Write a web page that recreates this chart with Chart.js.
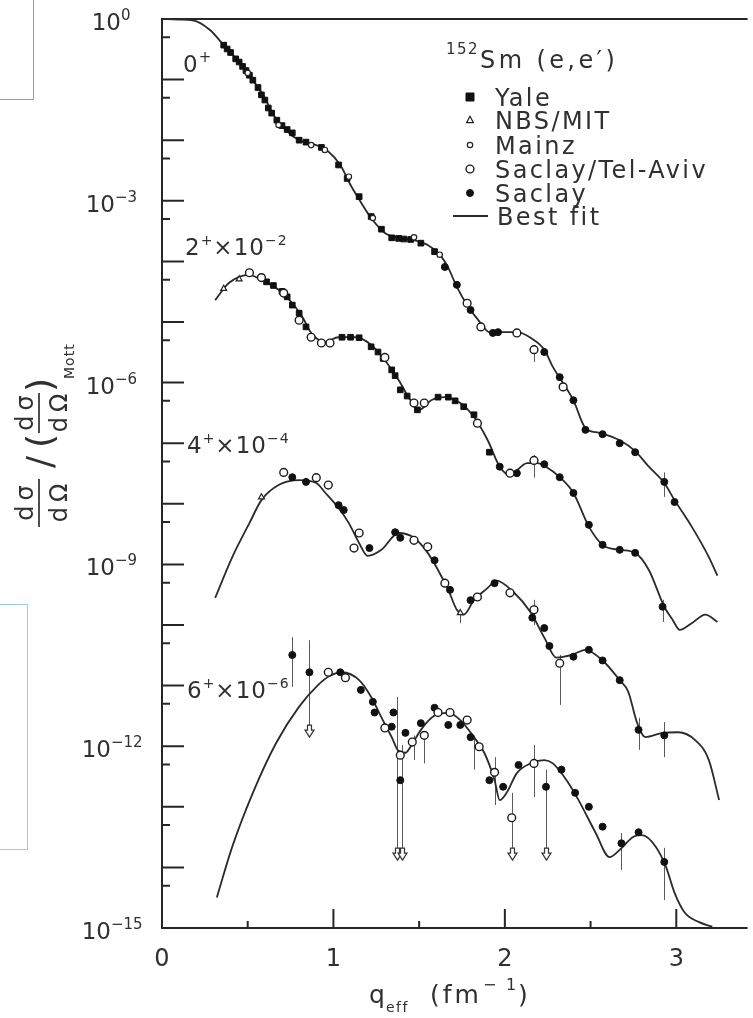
<!DOCTYPE html>
<html>
<head>
<meta charset="utf-8">
<script src="https://cdn.jsdelivr.net/npm/chart.js@4.4.1/dist/chart.umd.min.js"></script>
<style>
  html, body { margin: 0; padding: 0; background: #fff; }
  #wrap { position: relative; width: 753px; height: 1018px; overflow: hidden; }
  #c { position: absolute; left: 0; top: 0; }
  .box-grey { position: absolute; left: -5px; top: -5px; width: 39px; height: 105px; border: 1px solid #9a9a9a; box-sizing: border-box; }
  .box-blue { position: absolute; left: -5px; top: 604px; width: 33px; height: 246px; border: 1px solid #9fcbf2; box-sizing: border-box; }
</style>
</head>
<body>
<div id="wrap">
  <div class="box-grey"></div>
  <div class="box-blue"></div>
  <canvas id="c" width="753" height="1018"></canvas>
</div>
<script>
// 152Sm(e,e') form factors: q_eff in fm^-1, values as plotted
// (2+ already multiplied by 1e-2, 4+ by 1e-4, 6+ by 1e-6).

// ---- best-fit curves ----
const fit0 = [[0,1],[0.10,0.98],[0.18,0.95],[0.28,0.66],[0.36,0.37],[0.45,0.195],[0.53,9.8e-2],[0.60,5.0e-2],[0.65,2.6e-2],[0.72,1.48e-2],[0.80,1.0e-2],[0.90,8.3e-3],[0.97,6.5e-3],[1.04,3.9e-3],[1.10,1.82e-3],[1.16,9.5e-4],[1.22,5.2e-4],[1.30,2.95e-4],[1.38,2.45e-4],[1.47,2.24e-4],[1.55,1.86e-4],[1.62,1.29e-4],[1.67,7.8e-5],[1.72,3.8e-5],[1.78,1.9e-5],[1.86,9.5e-6],[1.91,6.8e-6],[1.99,6.8e-6],[2.07,6.8e-6],[2.15,5.5e-6],[2.23,3.5e-6],[2.28,1.82e-6],[2.34,9.8e-7],[2.40,5.1e-7],[2.47,1.78e-7],[2.55,1.48e-7],[2.67,1.12e-7],[2.76,7.4e-8],[2.84,4.1e-8],[2.93,2.2e-8],[2.99,1.15e-8],[3.09,4.2e-9],[3.19,1.32e-9],[3.24,6.5e-10]];
const fit2 = [[0.31,2.3e-5],[0.39,4.4e-5],[0.51,6.0e-5],[0.58,4.9e-5],[0.68,3.4e-5],[0.76,2.04e-5],[0.82,1.2e-5],[0.87,6.6e-6],[0.95,4.7e-6],[1.03,5.6e-6],[1.13,5.6e-6],[1.22,4.2e-6],[1.30,2.34e-6],[1.38,1.1e-6],[1.45,5.1e-7],[1.50,3.55e-7],[1.57,5.1e-7],[1.65,5.75e-7],[1.74,4.6e-7],[1.82,2.7e-7],[1.90,1.12e-7],[1.97,4.1e-8],[2.03,3.0e-8],[2.13,4.7e-8],[2.19,4.7e-8],[2.24,4.1e-8],[2.32,2.75e-8],[2.40,1.51e-8],[2.49,4.2e-9],[2.57,2.1e-9],[2.67,1.74e-9],[2.76,1.55e-9],[2.84,8.1e-10],[2.93,2.0e-10],[2.98,1.2e-10],[3.02,8.3e-11],[3.09,1.07e-10],[3.17,1.48e-10],[3.24,1.12e-10]];
const fit4 = [[0.31,2.8e-10],[0.41,1.32e-9],[0.51,4.8e-9],[0.58,1.15e-8],[0.68,2.04e-8],[0.80,2.45e-8],[0.90,2.2e-8],[0.95,1.55e-8],[1.03,8.5e-9],[1.09,4.8e-9],[1.15,2.24e-9],[1.20,1.38e-9],[1.28,1.74e-9],[1.38,3.3e-9],[1.47,2.75e-9],[1.55,1.55e-9],[1.61,8.1e-10],[1.67,3.8e-10],[1.72,1.78e-10],[1.76,1.48e-10],[1.82,2.57e-10],[1.90,4.1e-10],[1.95,5.4e-10],[2.05,3.5e-10],[2.15,1.62e-10],[2.23,6.2e-11],[2.30,2.9e-11],[2.39,3.2e-11],[2.47,3.9e-11],[2.57,2.6e-11],[2.67,1.23e-11],[2.72,7.9e-12],[2.77,2.5e-12],[2.82,1.41e-12],[2.92,1.66e-12],[3.01,1.7e-12],[3.11,1.26e-12],[3.19,5.9e-13],[3.25,1.29e-13]];
const fit6 = [[0.32,3.2e-15],[0.41,2.2e-14],[0.53,1.7e-13],[0.665,1.12e-12],[0.80,4.5e-12],[0.91,1.02e-11],[0.98,1.45e-11],[1.05,1.66e-11],[1.15,1.23e-11],[1.22,6.5e-12],[1.28,3.0e-12],[1.34,1.41e-12],[1.38,8.3e-13],[1.42,7.8e-13],[1.45,9.8e-13],[1.51,1.86e-12],[1.59,3.2e-12],[1.67,3.55e-12],[1.74,2.7e-12],[1.82,1.41e-12],[1.88,7.8e-13],[1.94,2.75e-13],[1.97,1.29e-13],[2.01,1.7e-13],[2.07,3.6e-13],[2.15,5.2e-13],[2.23,5.9e-13],[2.28,5.2e-13],[2.36,2.75e-13],[2.43,1.29e-13],[2.53,3.7e-14],[2.61,1.48e-14],[2.67,1.95e-14],[2.75,3.2e-14],[2.80,3.4e-14],[2.88,2.2e-14],[2.94,1.02e-14],[2.99,3.8e-15],[3.05,1.78e-15],[3.13,1.26e-15],[3.21,1.05e-15]];

// ---- measured points, by laboratory ----
const yale0 = [[0.36,0.37],[0.38,0.32],[0.40,0.28],[0.43,0.22],[0.45,0.195],[0.47,0.165],[0.49,0.141],[0.51,0.118],[0.53,9.8e-2],[0.56,7.4e-2],[0.58,5.6e-2],[0.60,4.6e-2],[0.62,3.4e-2],[0.64,2.8e-2],[0.67,2.14e-2],[0.70,1.74e-2],[0.73,1.5e-2],[0.76,1.32e-2],[0.80,1.0e-2],[0.84,9.3e-3],[0.93,7.6e-3],[1.03,3.9e-3],[1.08,2.34e-3],[1.15,1.17e-3],[1.22,5.5e-4],[1.28,3.4e-4],[1.34,2.45e-4],[1.38,2.4e-4],[1.41,2.34e-4],[1.45,2.3e-4],[1.51,2.0e-4],[1.59,1.45e-4]];
const yale2 = [[0.61,4.6e-5],[0.65,4.0e-5],[0.70,3.2e-5],[0.73,2.6e-5],[0.76,1.9e-5],[0.80,1.4e-5],[0.84,8.3e-6],[1.05,5.6e-6],[1.10,5.6e-6],[1.15,5.5e-6],[1.22,3.9e-6],[1.26,3.2e-6],[1.29,2.5e-6],[1.34,1.62e-6],[1.36,1.3e-6],[1.39,7.6e-7],[1.43,6.0e-7],[1.49,3.55e-7],[1.61,5.75e-7],[1.67,5.75e-7],[1.71,5.0e-7],[1.76,4.0e-7],[1.82,2.95e-7],[1.91,7.1e-8]];
const nbs2 = [[0.36,3.55e-5],[0.45,5.1e-5]];
const nbs4 = [[0.58,1.29e-8],[1.74,1.58e-10]];
const mainz0 = [[0.50,0.129],[0.68,1.78e-2],[0.87,8.3e-3],[0.95,6.9e-3],[1.09,2.5e-3],[1.23,5.2e-4],[1.47,2.5e-4],[1.62,1.29e-4]];
const stav0 = [[1.78,2.04e-5],[1.86,8.3e-6],[2.07,6.6e-6],[2.17,3.5e-6],[2.34,8.5e-7]];
const stav2 = [[0.51,6.5e-5],[0.58,5.4e-5],[0.71,3.0e-5],[0.80,1.07e-5],[0.87,5.6e-6],[0.93,4.5e-6],[0.98,4.5e-6],[1.30,2.6e-6],[1.47,4.6e-7],[1.53,4.6e-7],[1.84,2.14e-7],[2.03,3.2e-8],[2.17,5.2e-8]];
const stav4 = [[0.71,3.3e-8],[0.90,2.7e-8],[0.97,2.04e-8],[1.12,1.86e-9],[1.15,3.3e-9],[1.47,2.5e-9],[1.55,1.95e-9],[1.65,4.9e-10],[1.84,2.9e-10],[2.03,3.4e-10],[2.17,1.78e-10],[2.32,2.34e-11]];
const stav6 = [[0.97,1.66e-11],[1.07,1.35e-11],[1.30,2.0e-12],[1.39,7.1e-13],[1.46,1.17e-12],[1.53,1.51e-12],[1.61,3.6e-12],[1.68,3.6e-12],[1.78,2.7e-12],[1.85,9.8e-13],[1.94,3.7e-13],[2.04,6.6e-14],[2.17,5.2e-13]];
const saclay0 = [[1.65,8.1e-5],[1.72,4.1e-5],[1.80,1.58e-5],[1.93,6.6e-6],[1.96,6.8e-6],[2.23,3.2e-6],[2.32,1.23e-6],[2.40,5.1e-7],[2.47,1.66e-7],[2.57,1.41e-7],[2.67,1.0e-7],[2.76,7.1e-8],[2.93,2.3e-8],[2.99,1.07e-8]];
const saclay2 = [[1.97,4.1e-8],[2.07,3.2e-8],[2.23,4.5e-8],[2.32,2.75e-8],[2.40,1.51e-8],[2.49,4.5e-9],[2.57,2.1e-9],[2.67,1.74e-9],[2.76,1.55e-9],[2.92,2.0e-10]];
const saclay4 = [[0.76,2.75e-8],[0.84,2.3e-8],[1.03,9.5e-9],[1.06,7.9e-9],[1.21,1.86e-9],[1.36,3.4e-9],[1.39,2.75e-9],[1.59,1.17e-9],[1.68,3.8e-10],[1.80,2.57e-10],[1.94,4.9e-10],[2.16,1.32e-10],[2.23,8.9e-11],[2.26,4.5e-11],[2.40,3.0e-11],[2.49,3.9e-11],[2.57,2.6e-11],[2.67,1.23e-11],[2.78,1.86e-12],[2.93,1.51e-12]];
const saclay6 = [[0.76,3.2e-11],[0.86,1.66e-11],[1.04,1.66e-11],[1.16,8.5e-12],[1.23,5.4e-12],[1.24,3.6e-12],[1.34,2.1e-12],[1.35,3.6e-12],[1.39,2.75e-13],[1.42,1.66e-12],[1.51,2.4e-12],[1.59,4.3e-12],[1.67,2.24e-12],[1.74,2.24e-12],[1.80,1.41e-12],[1.91,2.75e-13],[1.99,2.14e-13],[2.08,4.9e-13],[2.24,2.14e-13],[2.33,4.1e-13],[2.41,1.7e-13],[2.49,1.0e-13],[2.57,4.7e-14],[2.68,2.5e-14],[2.78,3.8e-14],[2.93,1.23e-14]];

// error bars: [q, low, high]
const errorBars = [[2.17,2.2e-6,4.2e-6],[2.93,1.3e-8,3.3e-8],[2.17,2.7e-8,6.4e-8],[2.92,1.12e-10,2.6e-10],[1.74,1.07e-10,1.6e-10],[2.17,1.0e-10,2.6e-10],[2.32,4.8e-12,3.2e-11],[2.78,8.7e-13,2.95e-12],[2.93,6.6e-13,2.5e-12],[0.76,9.5e-12,6.3e-11],[1.47,5.9e-13,1.5e-12],[1.53,5.2e-13,1.7e-12],[1.82,4.1e-13,1.5e-12],[1.94,1.07e-13,6.6e-13],[2.17,1.45e-13,1.05e-12],[2.68,9.1e-15,3.7e-14],[2.93,2.9e-15,2.1e-14]];
// upper limits: [q, top of bar, arrow tip]
const upperLimits = [[0.86,5.6e-11,1.41e-12],[1.37,6.5e-12,1.32e-14],[1.40,1.05e-12,1.32e-14],[2.04,1.7e-13,1.32e-14],[2.24,4.1e-13,1.32e-14]];

// axes
const xTicks = [0, 1, 2, 3];
const xMinorTicks = [0.5, 1.5, 2.5];
const yDecades = [0,-1,-2,-3,-4,-5,-6,-7,-8,-9,-10,-11,-12,-13,-14,-15];
const yLabelDecades = [0, -3, -6, -9, -12, -15];
const legendLabels = ['Yale', 'NBS/MIT', 'Mainz', 'Saclay/Tel-Aviv', 'Saclay', 'Best fit'];

const FONT = '"DejaVu Sans", sans-serif';
const INK = '#303030';

const toXY = a => a.map(([x, y]) => ({ x, y }));

const markStyles = {
  'Yale':            { pointStyle: 'rect', pointRadius: 4, pointBackgroundColor: '#111', pointBorderColor: '#111', pointBorderWidth: 1 },
  'NBS/MIT':         { pointStyle: 'triangle', pointRadius: 3.4, pointBackgroundColor: '#fff', pointBorderColor: '#222', pointBorderWidth: 1.2 },
  'Mainz':           { pointStyle: 'circle', pointRadius: 2.7, pointBackgroundColor: '#fff', pointBorderColor: '#222', pointBorderWidth: 1.2 },
  'Saclay/Tel-Aviv': { pointStyle: 'circle', pointRadius: 3.9, pointBackgroundColor: '#fff', pointBorderColor: '#1a1a1a', pointBorderWidth: 1.4 },
  'Saclay':          { pointStyle: 'circle', pointRadius: 3.5, pointBackgroundColor: '#111', pointBorderColor: '#111', pointBorderWidth: 1 }
};

const pointSet = (label, arr) => Object.assign({ label, data: toXY(arr), showLine: false, order: 0 }, markStyles[label]);
const fitSet = arr => ({ label: 'Best fit', data: toXY(arr), showLine: true, pointRadius: 0, borderColor: '#2a2a2a', borderWidth: 1.8, cubicInterpolationMode: 'monotone', fill: false, order: 5 });

const datasets = [
  pointSet('Saclay/Tel-Aviv', [...stav0, ...stav2, ...stav4, ...stav6]),
  pointSet('Mainz', mainz0),
  pointSet('NBS/MIT', [...nbs2, ...nbs4]),
  pointSet('Saclay', [...saclay0, ...saclay2, ...saclay4, ...saclay6]),
  pointSet('Yale', [...yale0, ...yale2]),
  fitSet(fit0), fitSet(fit2), fitSet(fit4), fitSet(fit6)
];

// text runs with superscript / subscript: parts = [[text, 0 base | 1 sup | 2 sub], ...]
function drawRich(ctx, x, y, parts, big, small, rise, drop, spacing) {
  let cx = x;
  ctx.textAlign = 'left';
  ctx.textBaseline = 'alphabetic';
  for (const [t, k] of parts) {
    ctx.font = `${k ? small : big}px ${FONT}`;
    ctx.letterSpacing = spacing + 'px';
    const dy = k === 1 ? -rise : (k === 2 ? drop : 0);
    ctx.fillText(t, cx, y + dy);
    cx += ctx.measureText(t).width;
  }
  ctx.letterSpacing = '0px';
  return cx;
}
function drawText(ctx, x, y, text, size, spacing) {
  ctx.textAlign = 'left';
  ctx.textBaseline = 'alphabetic';
  ctx.font = `${size}px ${FONT}`;
  ctx.letterSpacing = spacing + 'px';
  ctx.fillText(text, x, y);
  ctx.letterSpacing = '0px';
}

// frame, tick marks, error bars and upper-limit arrows (under the markers)
const framePlugin = {
  id: 'frame',
  beforeDatasetsDraw(chart) {
    const { ctx, chartArea: a, scales: { x: xs, y: ys } } = chart;
    ctx.save();
    ctx.strokeStyle = '#262626';
    ctx.lineWidth = 2;
    ctx.beginPath();
    ctx.moveTo(a.right, a.top); ctx.lineTo(a.left, a.top);
    ctx.lineTo(a.left, a.bottom); ctx.lineTo(a.right, a.bottom);
    ctx.stroke();
    ctx.beginPath();
    yDecades.forEach(e => {
      const y = ys.getPixelForValue(Math.pow(10, e));
      ctx.moveTo(a.left, y); ctx.lineTo(a.left + 22, y);
      if (e > -15) {
        const ym = ys.getPixelForValue(5 * Math.pow(10, e - 1));
        ctx.moveTo(a.left, ym); ctx.lineTo(a.left + 8, ym);
      }
    });
    xTicks.forEach(v => {
      const x = xs.getPixelForValue(v);
      ctx.moveTo(x, a.bottom); ctx.lineTo(x, a.bottom - 19);
    });
    xMinorTicks.forEach(v => {
      const x = xs.getPixelForValue(v);
      ctx.moveTo(x, a.bottom); ctx.lineTo(x, a.bottom - 7);
    });
    ctx.stroke();

    ctx.strokeStyle = '#5a5a5a';
    ctx.lineWidth = 1;
    ctx.beginPath();
    errorBars.forEach(([q, lo, hi]) => {
      const x = Math.round(xs.getPixelForValue(q)) + 0.5;
      ctx.moveTo(x, ys.getPixelForValue(hi)); ctx.lineTo(x, ys.getPixelForValue(lo));
    });
    ctx.stroke();
    upperLimits.forEach(([q, from, to]) => {
      const x = Math.round(xs.getPixelForValue(q)) + 0.5;
      const y0 = ys.getPixelForValue(from), y1 = ys.getPixelForValue(to);
      ctx.strokeStyle = '#5a5a5a';
      ctx.lineWidth = 1;
      ctx.beginPath();
      ctx.moveTo(x, y0); ctx.lineTo(x, y1 - 8);
      ctx.stroke();
      ctx.strokeStyle = '#333';
      ctx.lineWidth = 1.2;
      ctx.beginPath();
      ctx.moveTo(x - 2, y1 - 12); ctx.lineTo(x - 2, y1 - 7); ctx.lineTo(x - 4.5, y1 - 7);
      ctx.lineTo(x, y1); ctx.lineTo(x + 4.5, y1 - 7); ctx.lineTo(x + 2, y1 - 7); ctx.lineTo(x + 2, y1 - 12);
      ctx.closePath();
      ctx.fillStyle = '#fff';
      ctx.fill();
      ctx.stroke();
    });
    ctx.restore();
  },
  afterDraw(chart) {
    const { ctx, scales: { y: ys } } = chart;
    ctx.save();
    ctx.fillStyle = INK;
    ctx.strokeStyle = INK;

    // y tick labels 10^n (the "10" sits a little further left for two-digit exponents)
    yLabelDecades.forEach(e => {
      const y = ys.getPixelForValue(Math.pow(10, e));
      const exp = e === 0 ? '0' : '\u2212' + (-e);
      ctx.font = `23px ${FONT}`;
      const bw = ctx.measureText('10').width;
      const baseRight = e === 0 ? 121 : (e > -10 ? 115 : 111);
      drawRich(ctx, baseRight - bw, y + 11, [['10', 0], [exp, 1]], 23, 15, 10, 0, 0);
    });

    // state labels
    drawRich(ctx, 183, 72, [['0', 0], ['+', 1]], 23, 15, 10, 0, 1);
    drawRich(ctx, 185, 255, [['2', 0], ['+', 1], ['\u00d710', 0], ['\u22122', 1]], 23, 14, 10, 0, 1);
    drawRich(ctx, 187, 453, [['4', 0], ['+', 1], ['\u00d710', 0], ['\u22124', 1]], 23, 14, 10, 0, 1);
    drawRich(ctx, 187, 698, [['6', 0], ['+', 1], ['\u00d710', 0], ['\u22126', 1]], 23, 14, 10, 0, 1);

    // legend
    drawText(ctx, 446, 54, '152', 15, 1.5);
    drawText(ctx, 480, 68, 'Sm (e,e\u2032)', 24, 3.4);
    const rowY = [97, 120, 145, 169, 193, 216];
    const sx = 470;
    legendLabels.forEach((lab, i) => {
      const y = rowY[i];
      if (lab === 'Best fit') {
        ctx.strokeStyle = '#2a2a2a'; ctx.lineWidth = 1.8;
        ctx.beginPath(); ctx.moveTo(453, y); ctx.lineTo(488, y); ctx.stroke();
      } else {
        const st = markStyles[lab];
        ctx.fillStyle = st.pointBackgroundColor; ctx.strokeStyle = st.pointBorderColor;
        ctx.lineWidth = st.pointBorderWidth;
        ctx.beginPath();
        const r = st.pointRadius;
        if (st.pointStyle === 'circle') ctx.arc(sx, y, r, 0, Math.PI * 2);
        else if (st.pointStyle === 'rect') ctx.rect(sx - r, y - r, r * 2, r * 2);
        else { ctx.moveTo(sx, y - r * 1.1); ctx.lineTo(sx + r, y + r * 0.8); ctx.lineTo(sx - r, y + r * 0.8); ctx.closePath(); }
        ctx.fill(); ctx.stroke();
      }
      ctx.fillStyle = INK;
      drawText(ctx, lab === 'Best fit' ? 497 : 495, y + 9, lab, 24, 2.4);
    });

    // x axis title  q_eff (fm^-1)
    drawText(ctx, 369, 1003, 'q', 25, 0);
    drawText(ctx, 386, 1012, 'eff', 14, 1.5);
    drawText(ctx, 430, 1003, '(fm', 25, 3);
    drawText(ctx, 483, 990, '\u2212', 16, 0);
    drawText(ctx, 506, 990, '1', 16, 0);
    drawText(ctx, 518, 1003, ')', 25, 0);

    // y axis title  (dσ/dΩ) / (dσ/dΩ)_Mott, reading upward
    ctx.save();
    ctx.translate(40, 447);
    ctx.rotate(-Math.PI / 2);
    ctx.fillStyle = INK; ctx.strokeStyle = INK;
    ctx.textAlign = 'left';
    ctx.textBaseline = 'alphabetic';
    ctx.font = `24px ${FONT}`;
    ctx.letterSpacing = '5px';
    const fracW = ctx.measureText('d\u03c3').width - 5;
    const fracW2 = ctx.measureText('d\u03a9').width - 5;
    ctx.fillText('d\u03c3', -56 - fracW / 2, -7);
    ctx.fillText('d\u03a9', -56 - fracW2 / 2, 27);
    ctx.fillText('d\u03c3', 34 - fracW / 2, -7);
    ctx.fillText('d\u03a9', 34 - fracW2 / 2, 27);
    ctx.letterSpacing = '0px';
    ctx.lineWidth = 1.7;
    ctx.beginPath();
    ctx.moveTo(-80, -1); ctx.lineTo(-32, -1);
    ctx.moveTo(14, -1); ctx.lineTo(54, -1);
    ctx.stroke();
    ctx.textAlign = 'center';
    ctx.font = `36px ${FONT}`;
    ctx.textBaseline = 'middle';
    ctx.fillText('/', -15, 3);
    ctx.fillText('(', 6, 3);
    ctx.fillText(')', 62, 3);
    ctx.textAlign = 'left';
    ctx.textBaseline = 'alphabetic';
    ctx.font = `14px ${FONT}`;
    ctx.letterSpacing = '1px';
    ctx.fillText('Mott', 68, 34);
    ctx.restore();

    ctx.restore();
  }
};

new Chart(document.getElementById('c'), {
  type: 'line',
  data: { datasets },
  options: {
    responsive: false,
    devicePixelRatio: 1,
    animation: false,
    events: [],
    layout: { padding: { top: 19, right: 0, bottom: 0, left: 0 } },
    plugins: { legend: { display: false }, tooltip: { enabled: false } },
    scales: {
      x: {
        type: 'linear', min: 0, max: 3.416,
        afterBuildTicks: s => { s.ticks = xTicks.map(v => ({ value: v })); },
        afterFit: s => { s.height = 90; },
        grid: { display: false, drawTicks: false },
        border: { display: false },
        ticks: { color: INK, font: { family: FONT, size: 24 }, padding: 17, maxRotation: 0 }
      },
      y: {
        type: 'logarithmic', min: 1e-15, max: 1,
        afterFit: s => { s.width = 162; },
        grid: { display: false, drawTicks: false },
        border: { display: false },
        ticks: { display: false }
      }
    }
  },
  plugins: [framePlugin]
});
</script>
</body>
</html>
